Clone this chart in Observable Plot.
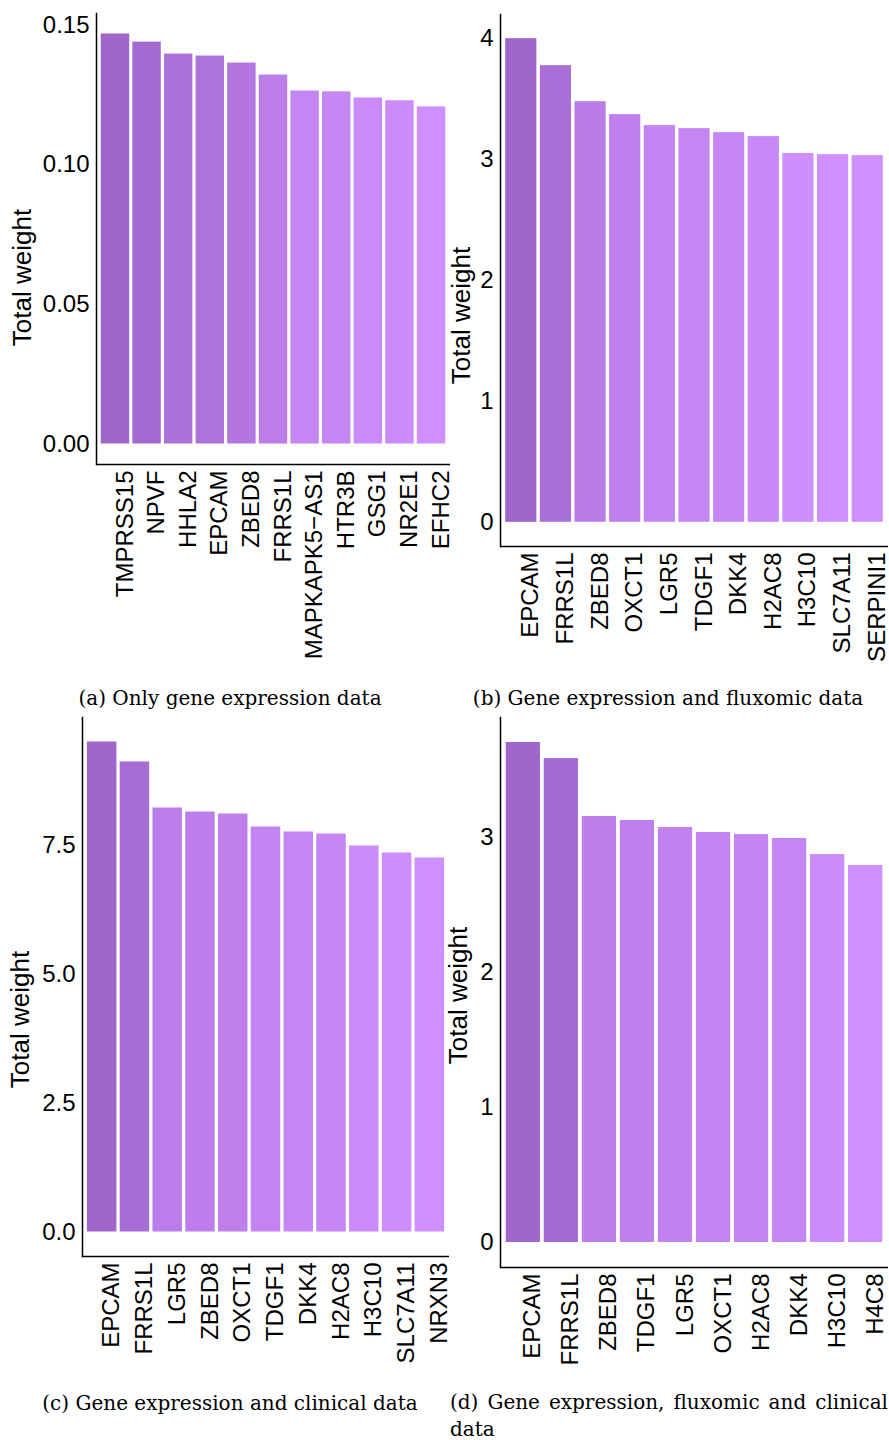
<!DOCTYPE html>
<html><head><meta charset="utf-8">
<script src="https://cdn.jsdelivr.net/npm/d3@7"></script>
<script src="https://cdn.jsdelivr.net/npm/@observablehq/plot@0.6"></script>
<style>
body{margin:0;background:#fff;width:889px;height:1440px;position:relative;overflow:hidden}
.panel{position:absolute}
.cap{position:absolute;font-family:"DejaVu Serif",serif;font-size:20px;line-height:20px;color:#000;white-space:nowrap}
</style></head><body>
<div id="pa" class="panel" style="left:0;top:0"></div>
<div id="pb" class="panel" style="left:440px;top:0"></div>
<div id="pc" class="panel" style="left:0;top:712px"></div>
<div id="pd" class="panel" style="left:440px;top:712px"></div>
<div class="cap" style="left:0;width:460px;top:688px;text-align:center">(a) Only gene expression data</div>
<div class="cap" style="left:448px;width:440px;top:688px;text-align:center">(b) Gene expression and fluxomic data</div>
<div class="cap" style="left:0;width:460px;top:1393px;text-align:center">(c) Gene expression and clinical data</div>
<div class="cap" style="left:450px;width:438px;top:1389px;line-height:27px;white-space:normal">
  <div style="text-align:justify;text-align-last:justify;white-space:nowrap">(d) Gene expression, fluxomic and clinical</div>
  <div>data</div>
</div>
<script>
// ---- data ----
const genesA = ["TMPRSS15","NPVF","HHLA2","EPCAM","ZBED8","FRRS1L","MAPKAPK5−AS1","HTR3B","GSG1","NR2E1","EFHC2"];
const weightsA = [0.1468,0.1439,0.1396,0.1389,0.1364,0.1321,0.1264,0.1261,0.1239,0.1229,0.1207];
const ticksA = [0, 0.05, 0.10, 0.15];

const genesB = ["EPCAM","FRRS1L","ZBED8","OXCT1","LGR5","TDGF1","DKK4","H2AC8","H3C10","SLC7A11","SERPINI1"];
const weightsB = [4.0,3.777,3.479,3.372,3.281,3.256,3.223,3.19,3.05,3.041,3.033];
const ticksB = [0, 1, 2, 3, 4];

const genesC = ["EPCAM","FRRS1L","LGR5","ZBED8","OXCT1","TDGF1","DKK4","H2AC8","H3C10","SLC7A11","NRXN3"];
const weightsC = [9.496,9.109,8.217,8.14,8.10,7.849,7.752,7.713,7.48,7.345,7.248];
const ticksC = [0, 2.5, 5.0, 7.5];

const genesD = ["EPCAM","FRRS1L","ZBED8","TDGF1","LGR5","OXCT1","H2AC8","DKK4","H3C10","H4C8"];
const weightsD = [3.704,3.585,3.156,3.126,3.074,3.037,3.022,2.993,2.874,2.793];
const ticksD = [0, 1, 2, 3];

const yTitle = "Total weight";
const darkFill = "#A066CC";
const lightFill = "#D08FFF";

function panel(o) {
  const data = o.genes.map((g, i) => ({gene: g, weight: o.weights[i]}));
  const max = d3.max(o.weights);
  const lo = -0.05 * max, hi = 1.05 * max;
  return Plot.plot({
    width: o.width, height: o.height,
    marginLeft: o.ml, marginRight: o.mr, marginTop: o.mt, marginBottom: o.mb,
    style: {background: "transparent", overflow: "visible", fontFamily: "'Liberation Sans', Arial, sans-serif", color: "#000"},
    x: {domain: o.genes, paddingInner: 0.1, paddingOuter: 0.15, align: 0.5, round: false},
    y: {domain: [lo, hi]},
    color: {type: "linear", domain: [d3.min(o.weights), max], range: [lightFill, darkFill], interpolate: "lab"},
    marks: [
      Plot.barY(data, {x: "gene", y: "weight", fill: "weight"}),
      Plot.axisY({ticks: o.ticks, tickFormat: o.fmt, tickSize: 0, tickPadding: 7, fontSize: 24, fill: "#000", label: null}),
      Plot.axisX({tickRotate: -90, tickSize: 0, tickPadding: 6, fontSize: 24, lineAnchor: "top", fill: "#000", label: null}),
      Plot.ruleY([lo], {stroke: "#000", strokeWidth: 1.5}),
      Plot.frame({anchor: "left", stroke: "#000", strokeWidth: 1.5}),
      Plot.text([yTitle], {frameAnchor: "left", rotate: -90, textAnchor: "middle", lineAnchor: "middle", dx: o.tdx, dy: o.tdy, fontSize: 26, fill: "#000"})
    ]
  });
}

document.getElementById("pa").append(panel({genes: genesA, weights: weightsA, ticks: ticksA, fmt: d3.format(".2f"),
  width: 450, height: 680, ml: 96, mr: 0, mt: 13, mb: 216, tdx: -74, tdy: 38.5}));
document.getElementById("pb").append(panel({genes: genesB, weights: weightsB, ticks: ticksB, fmt: d3.format("d"),
  width: 449, height: 680, ml: 60, mr: 1, mt: 14, mb: 134, tdx: -39, tdy: 35}));
document.getElementById("pc").append(panel({genes: genesC, weights: weightsC, ticks: ticksC, fmt: d3.format(".1f"),
  width: 450, height: 668, ml: 82, mr: 1, mt: 5, mb: 124, tdx: -62, tdy: 32.5}));
document.getElementById("pd").append(panel({genes: genesD, weights: weightsD, ticks: ticksD, fmt: d3.format("d"),
  width: 449, height: 668, ml: 60, mr: 1, mt: 5, mb: 113, tdx: -42, tdy: 3}));
</script>
</body></html>
